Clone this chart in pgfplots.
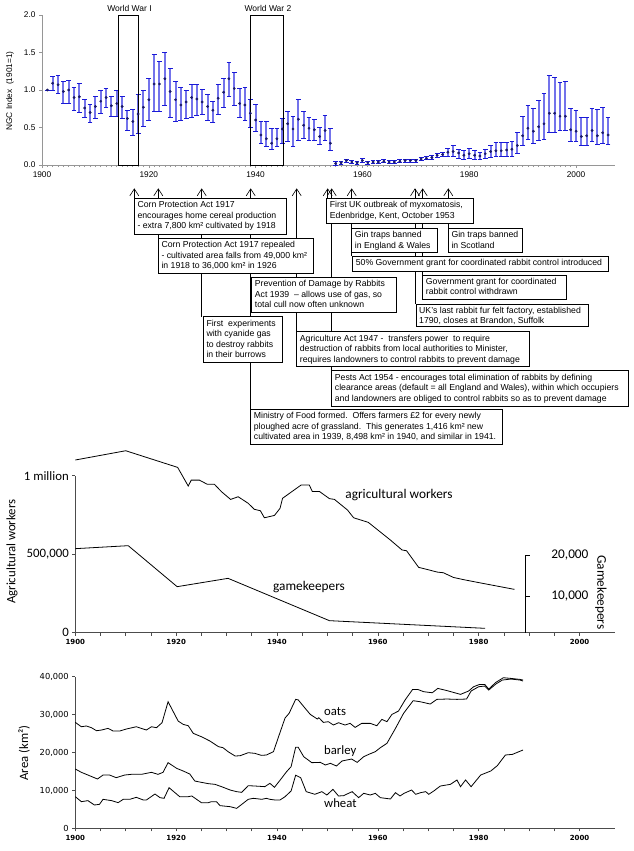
\documentclass[border=0pt]{standalone}
\usepackage{fontspec}
\setmainfont{Liberation Sans}
\newfontfamily\calibri{Carlito}
\newfontfamily\verdana{DejaVu Sans}
\usepackage{pgfplots}
\usepackage{pgfplotstable}
\pgfplotsset{compat=1.18}
\usetikzlibrary{arrows.meta}

\definecolor{barblue}{RGB}{115,115,235}
\definecolor{capblue}{RGB}{25,25,215}
\definecolor{dotblue}{RGB}{25,25,105}
\definecolor{axgray}{RGB}{150,150,150}

\newcommand\annot{\fontsize{8.7}{10.5}\selectfont}
\newcommand\abox[5]{%
  \draw[line width=0.7pt, fill=white] (#1,#2) rectangle (#3,#4);
  \node[anchor=north west, inner sep=0pt, align=left, font=\annot] at ({#1+3},{#2+2.8}) {#5};}
\newcommand\uparr[3]{\draw[line width=0.6pt, -{Straight Barb[length=7pt,width=9pt]}] (#1,#3) -- (#1,#2);}

% NGC rabbit index: year, value, upper, lower
\pgfplotstableread{
yr v hi lo
1901 1.00 1.00 1.00
1902 1.09 1.18 1.00
1903 1.07 1.19 0.96
1904 0.98 1.11 0.82
1905 1.00 1.13 0.82
1906 0.90 1.04 0.73
1907 0.91 1.09 0.70
1908 0.76 0.88 0.64
1909 0.70 0.81 0.57
1910 0.78 0.91 0.62
1911 0.85 1.00 0.69
1912 0.90 1.02 0.77
1913 0.79 0.92 0.65
1914 0.82 0.99 0.65
1915 0.78 0.92 0.62
1916 0.62 0.73 0.46
1917 0.58 0.74 0.40
1918 0.68 0.94 0.42
1919 0.77 1.00 0.52
1920 0.87 1.15 0.59
1921 1.08 1.48 0.71
1922 1.08 1.38 0.72
1923 1.15 1.50 0.79
1924 0.98 1.29 0.64
1925 0.87 1.12 0.58
1926 0.80 1.03 0.59
1927 0.84 1.00 0.62
1928 0.90 1.08 0.64
1929 0.88 1.08 0.66
1930 0.84 1.01 0.67
1931 0.78 0.94 0.60
1932 0.73 0.85 0.57
1933 0.89 1.07 0.68
1934 0.97 1.16 0.77
1935 1.15 1.37 0.91
1936 1.02 1.23 0.79
1937 0.82 1.02 0.63
1938 0.80 1.03 0.59
1939 0.69 0.87 0.50
1940 0.60 0.81 0.45
1941 0.40 0.58 0.29
1942 0.35 0.58 0.25
1943 0.29 0.49 0.21
1944 0.35 0.49 0.25
1945 0.48 0.62 0.29
1946 0.55 0.72 0.31
1947 0.48 0.65 0.25
1948 0.61 0.87 0.33
1949 0.53 0.72 0.35
1950 0.49 0.63 0.33
1951 0.47 0.61 0.33
1952 0.38 0.50 0.28
1953 0.46 0.66 0.33
1954 0.29 0.49 0.19
1955 0.02 0.05 0.00
1956 0.03 0.05 0.01
1957 0.06 0.08 0.04
1958 0.04 0.06 0.02
1959 0.03 0.05 0.01
1960 0.06 0.09 0.03
1961 0.03 0.05 0.01
1962 0.04 0.06 0.02
1963 0.04 0.06 0.02
1964 0.05 0.07 0.03
1965 0.04 0.06 0.02
1966 0.04 0.06 0.02
1967 0.05 0.07 0.03
1968 0.06 0.08 0.04
1969 0.06 0.08 0.04
1970 0.06 0.08 0.04
1971 0.08 0.10 0.06
1972 0.09 0.11 0.07
1973 0.10 0.13 0.08
1974 0.13 0.16 0.10
1975 0.14 0.17 0.11
1976 0.17 0.22 0.11
1977 0.18 0.26 0.11
1978 0.16 0.21 0.09
1979 0.13 0.19 0.08
1980 0.15 0.22 0.09
1981 0.13 0.19 0.07
1982 0.12 0.17 0.07
1983 0.15 0.21 0.09
1984 0.18 0.26 0.10
1985 0.19 0.30 0.11
1986 0.19 0.30 0.11
1987 0.20 0.30 0.12
1988 0.21 0.31 0.12
1989 0.26 0.43 0.16
1990 0.39 0.65 0.26
1991 0.49 0.80 0.34
1992 0.45 0.75 0.29
1993 0.51 0.86 0.33
1994 0.55 0.95 0.34
1995 0.69 1.19 0.44
1996 0.69 1.17 0.44
1997 0.65 1.10 0.46
1998 0.65 1.12 0.46
1999 0.47 0.75 0.32
2000 0.45 0.73 0.31
2001 0.38 0.63 0.26
2002 0.39 0.64 0.26
2003 0.46 0.76 0.31
2004 0.39 0.74 0.28
2005 0.43 0.77 0.29
2006 0.40 0.64 0.27
}\ngc

\pgfplotstableread{
yr n
1900 1100000
1910 1159000
1920.3 1053000
1922.4 934000
1923 972000
1924.6 972000
1926.2 945000
1927.6 945000
1929 898000
1930.8 849000
1932.3 866000
1934.3 824000
1935.5 786000
1936.7 777000
1937.5 732000
1939.5 747000
1940.6 792000
1941.1 856000
1944.8 941000
1946.4 941000
1947 900000
1948.4 900000
1950.4 854000
1951.4 849000
1954 781000
1955.2 732000
1958.1 703000
1962.5 590000
1964.8 527000
1965.7 522000
1968.1 416000
1969.4 406000
1971.8 386000
1973 382000
1975 352000
1977 338000
1980.2 318000
1987.1 276000
}\workers

\pgfplotstableread{
yr n
1900 21545
1910.5 22276
1920.2 12276
1930.3 14309
1950.4 3984
1981.3 2114
}\keepers

\pgfplotstableread{
yr a
1900 27950
1901.2 26800
1902.2 27000
1903.2 26550
1904.2 25750
1905.2 25930
1906.5 26370
1907.5 25670
1908.8 25670
1910.1 26190
1912.1 26800
1914.1 25930
1915.1 26800
1916.1 26550
1917.2 27860
1918.4 33400
1920.4 28300
1921.4 27420
1922.4 27070
1923.4 25050
1925.0 24170
1926.7 23030
1928.4 21540
1929.3 21270
1930.3 20220
1931.7 19070
1932.7 19160
1934.3 19950
1935.6 19780
1936.9 19250
1937.9 19340
1939.3 20220
1940.4 24500
1941.6 29100
1942.4 30330
1943.7 34020
1944.2 33900
1945.6 31640
1946.6 30060
1948.0 28830
1948.3 29180
1949.2 27950
1950.2 28130
1951.2 27250
1952.2 27860
1953.5 27250
1954.5 27690
1955.5 26630
1956.8 27690
1958.5 27690
1959.8 27070
1960.8 28740
1961.8 28130
1962.8 30060
1964.1 30940
1965.4 33840
1966.9 36650
1967.9 36650
1969.1 36040
1970.8 35770
1971.9 36920
1973.8 36300
1976.4 35340
1978.0 36220
1979.0 37360
1980.2 37970
1981.2 37970
1982.0 36740
1983.4 38500
1984.9 39730
1986.4 39550
1988.2 39290
1988.8 39120
}\oats

\pgfplotstableread{
yr a
1900 15650
1901.2 14770
1902.5 14060
1904.4 13010
1905.5 14060
1906.8 14060
1908.1 13360
1909.8 14060
1911.1 14240
1913.1 14240
1915.1 14770
1916.4 14240
1917.4 14770
1918.4 17320
1920.1 15820
1921.4 15120
1922.7 14330
1923.7 12480
1925.0 12130
1926.4 11780
1927.7 11600
1929.0 10990
1930.7 10110
1932.0 9670
1933.0 9490
1934.3 11250
1935.6 11160
1937.6 10990
1938.6 11870
1939.5 10810
1940.9 13190
1941.9 14940
1942.8 16260
1943.7 21360
1944.2 21400
1945.3 18900
1946.9 17320
1948.6 17400
1949.6 16700
1950.6 17140
1951.8 16440
1952.9 17760
1954.8 18280
1955.9 17400
1957.2 18900
1958.2 19510
1959.5 20220
1960.5 21270
1961.8 22410
1963.5 26370
1965.1 30320
1967.0 33670
1968.4 33400
1970.4 32790
1971.7 34020
1973.7 34110
1975.7 34020
1977.6 34110
1978.5 36220
1980.0 37360
1981.2 37530
1982.0 36480
1983.4 38060
1984.7 39120
1986.4 39380
1988.2 39120
1988.8 38850
}\barley

\pgfplotstableread{
yr a
1900 8350
1901.2 7030
1902.5 7300
1903.8 6150
1904.8 6330
1905.5 7650
1907.2 7300
1908.5 6770
1909.5 7650
1910.8 7650
1912.1 8170
1913.5 7470
1914.1 7470
1915.8 9050
1916.8 8090
1917.6 7910
1918.6 10720
1920.7 8350
1922.4 8350
1923.1 8530
1925.0 6770
1926.4 6770
1927.0 7030
1928.0 7030
1928.7 5980
1930.7 5710
1932.0 5270
1934.3 7650
1935.3 7910
1937.0 7650
1937.9 7910
1938.6 7650
1939.6 7470
1940.6 7470
1941.6 8350
1942.8 9850
1943.7 14000
1944.7 13360
1945.8 9670
1946.9 9230
1947.5 8970
1948.9 9670
1949.9 8790
1951.1 10280
1952.2 8530
1953.2 8610
1954.9 9670
1956.2 8090
1957.2 9230
1958.5 8790
1959.5 9230
1960.5 8090
1961.5 7910
1962.5 7740
1963.5 9410
1964.4 8530
1965.2 9230
1966.7 10110
1967.5 8970
1968.5 9410
1969.5 9670
1970.1 8970
1971.1 9850
1972.4 11160
1974.4 11600
1975.7 12750
1976.4 10990
1977.4 12750
1978.5 10990
1980.4 14060
1982.4 15120
1983.7 16530
1985.3 19340
1986.7 19510
1988.3 20390
1988.8 20660
}\wheat

\begin{document}
\begin{tikzpicture}
\useasboundingbox (0pt,0pt) rectangle (634pt,-851pt);

% ---------- top: NGC index ----------
\begin{axis}[at={(42pt,-165pt)}, anchor=south west, scale only axis,
  width=573pt, height=150pt, xmin=1900, xmax=2007.3, ymin=0, ymax=2, clip=false,
  axis x line*=bottom, axis y line*=left,
  axis line style={axgray, line width=0.8pt},
  xtick={1900,1920,...,2000}, xticklabels={1900,1920,1940,1960,1980,2000},
  minor x tick num=19,
  ytick={0,0.5,1,1.5,2}, yticklabels={0.0,0.5,1.0,1.5,2.0},
  tick style={axgray, line width=0.6pt}, tick align=outside,
  major tick length=3pt, minor tick length=2pt,
  tick label style={font=\fontsize{8.3}{10}\selectfont},
  /pgf/number format/assume math mode=true]
\addplot[only marks, mark=*, mark size=1.2pt, color=dotblue,
  error bars/.cd, y dir=both, y explicit,
  error bar style={line width=2pt, draw=barblue},
  error mark=-,
  error mark options={rotate=90, line width=0.9pt, draw=capblue, mark size=2.4pt}]
  table[x=yr, y=v, y error plus expr=\thisrow{hi}-\thisrow{v},
        y error minus expr=\thisrow{v}-\thisrow{lo}] {\ngc};
\draw[line width=0.7pt] (axis cs:1914.3,0) rectangle (axis cs:1918.1,2);
\draw[line width=0.7pt] (axis cs:1939.1,0) rectangle (axis cs:1945.2,2);
\end{axis}

% ---------- middle: agricultural workers ----------
\begin{axis}[at={(75.3pt,-632.7pt)}, anchor=south west, scale only axis,
  width=539.5pt, height=157pt, xmin=1900, xmax=2007, ymin=0, ymax=1000000, clip=false,
  axis x line*=bottom, axis y line*=left,
  axis line style={black!70, line width=0.7pt},
  xtick={1900,1920,...,2000}, xticklabels={1900,1920,1940,1960,1980,2000},
  minor x tick num=3,
  ytick={0,500000,1000000}, yticklabels={0,{500,000},{1 million}},
  scaled y ticks=false,
  tick style={black!70, line width=0.6pt}, tick align=outside,
  major tick length=3pt, minor tick length=3pt,
  xticklabel style={font=\verdana\bfseries\fontsize{7}{8}\selectfont},
  yticklabel style={font=\calibri\fontsize{12.8}{14}\selectfont},
  /pgf/number format/assume math mode=true]
\addplot[line width=0.8pt, black] table[x=yr, y=n] {\workers};
\end{axis}

\begin{axis}[at={(75.3pt,-632.7pt)}, anchor=south west, scale only axis,
  width=449.6pt, height=77.7pt, xmin=1900, xmax=1989.17, ymin=1049, ymax=20000, clip=false,
  axis x line=none, axis y line*=right,
  axis line style={black, line width=0.8pt},
  ytick={10000,20000}, yticklabels={{10,000},{20,000}},
  scaled y ticks=false,
  tick style={black, line width=0.8pt}, tick align=outside, major tick length=5pt,
  yticklabel style={font=\calibri\fontsize{13.3}{14}\selectfont, xshift=18pt},
  /pgf/number format/assume math mode=true]
\addplot[line width=0.8pt, black] table[x=yr, y=n] {\keepers};
\end{axis}

% ---------- bottom: cereal area ----------
\begin{axis}[at={(75.3pt,-828.3pt)}, anchor=south west, scale only axis,
  width=539.5pt, height=151.6pt, xmin=1900, xmax=2007, ymin=0, ymax=40000, clip=false,
  axis x line*=bottom, axis y line*=left,
  axis line style={black!70, line width=0.7pt},
  xtick={1900,1920,...,2000}, xticklabels={1900,1920,1940,1960,1980,2000},
  minor x tick num=3,
  ytick={0,10000,...,40000}, yticklabels={0,{10,000},{20,000},{30,000},{40,000}},
  scaled y ticks=false,
  tick style={black!70, line width=0.6pt}, tick align=outside,
  major tick length=3pt, minor tick length=3pt,
  xticklabel style={font=\verdana\bfseries\fontsize{7}{8}\selectfont},
  yticklabel style={font=\verdana\fontsize{8.3}{9}\selectfont},
  /pgf/number format/assume math mode=true]
\addplot[line width=0.8pt, black] table[x=yr, y=a] {\oats};
\addplot[line width=0.8pt, black] table[x=yr, y=a] {\barley};
\addplot[line width=0.8pt, black] table[x=yr, y=a] {\wheat};
\end{axis}

% ---------- text and annotations ----------
\begin{scope}[x=1pt, y=-1pt]
\node[font=\fontsize{8.5}{10}\selectfont] at (129.5,8.3) {World War I};
\node[font=\fontsize{8.5}{10}\selectfont] at (268,8.3) {World War 2};
\node[rotate=90, font=\fontsize{8.3}{10}\selectfont] at (10,91) {NGC Index\ \ (1901=1)};

% arrows and connectors (drawn under the boxes)
\uparr{134.3}{188.3}{198.3}
\uparr{158.3}{188.3}{238.3}
\uparr{201.7}{188.3}{316.7}
\uparr{250.7}{188.3}{409.3}
\uparr{296.7}{188.3}{331.7}
\uparr{327.7}{188.3}{198.3}
\uparr{331.7}{188.3}{370.7}
\uparr{351.7}{188.3}{256}
\uparr{415}{188.3}{304}
\uparr{422.7}{188.3}{275}
\uparr{448.3}{188.3}{228.3}

\abox{134.3}{198.3}{286.7}{234.3}{Corn Protection Act 1917\\encourages home cereal production\\- extra 7,800 km² cultivated by 1918}
\abox{158.3}{238.3}{313.3}{273.3}{Corn Protection Act 1917 repealed\\- cultivated area falls from 49,000 km²\\in 1918 to 36,000 km² in 1926}
\abox{251.7}{277.3}{396.7}{312.7}{Prevention of Damage by Rabbits\\Act 1939\ \ – allows use of gas, so\\total cull now often unknown}
\abox{326.7}{198.3}{473.3}{223.3}{First UK outbreak of myxomatosis,\\Edenbridge, Kent, October 1953}
\abox{351.7}{228.3}{437.7}{252.3}{Gin traps banned\\in England \& Wales}
\abox{448.3}{228.3}{522.3}{252.3}{Gin traps banned\\in Scotland}
\abox{352.7}{256}{608.3}{271}{50\% Government grant for coordinated rabbit control introduced}
\abox{422.7}{275}{566}{299}{Government grant for coordinated\\rabbit control withdrawn}
\abox{416}{304}{588.3}{326.7}{UK’s last rabbit fur felt factory, established\\1790, closes at Brandon, Suffolk}
\abox{203.3}{316.7}{282.3}{362.3}{First\ \ experiments\\with cyanide gas\\to destroy rabbits\\in their burrows}
\abox{296.7}{331.7}{529.3}{366}{Agriculture Act 1947 -\ \ transfers power\ \ to require\\destruction of rabbits from local authorities to Minister,\\requires landowners to control rabbits to prevent damage}
\abox{331.7}{370.7}{628}{406.7}{Pests Act 1954 - encourages total elimination of rabbits by defining\\clearance areas (default = all England and Wales), within which occupiers\\and landowners are obliged to control rabbits so as to prevent damage}
\abox{250.7}{409.3}{502.7}{444}{Ministry of Food formed.\ \ Offers farmers £2 for every newly\\ploughed acre of grassland.\ \ This generates 1,416 km² new\\cultivated area in 1939, 8,498 km² in 1940, and similar in 1941.}

% middle chart labels
\node[font=\calibri\fontsize{13.3}{15}\selectfont] at (399,495) {agricultural workers};
\node[font=\calibri\fontsize{13.3}{15}\selectfont] at (309,586.7) {gamekeepers};
\node[rotate=90, font=\calibri\fontsize{12.8}{15}\selectfont] at (12,551.7) {Agricultural workers};
\node[rotate=-90, font=\calibri\fontsize{13.3}{15}\selectfont] at (601,592.5) {Gamekeepers};

% bottom chart labels
\node[anchor=west, font=\calibri\fontsize{12.7}{15}\selectfont] at (320.7,711.7) {oats};
\node[anchor=west, font=\calibri\fontsize{12.7}{15}\selectfont] at (320.7,751) {barley};
\node[anchor=west, font=\calibri\fontsize{12.7}{15}\selectfont] at (320.7,802.7) {wheat};
\node[rotate=90, font=\calibri\fontsize{12.7}{15}\selectfont] at (24,753) {Area (km²)};
\end{scope}
\end{tikzpicture}
\end{document}
